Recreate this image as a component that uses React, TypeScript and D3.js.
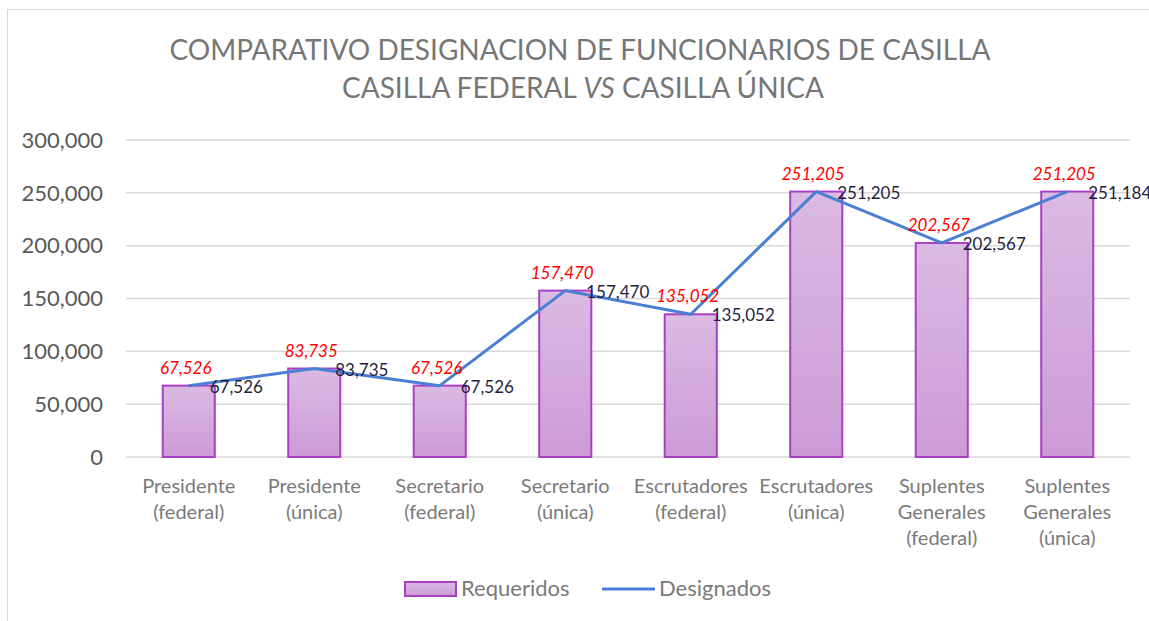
import React from "react";
import * as d3 from "d3";

const categories: string[][] = [
  ["Presidente", "(federal)"],
  ["Presidente", "(única)"],
  ["Secretario", "(federal)"],
  ["Secretario", "(única)"],
  ["Escrutadores", "(federal)"],
  ["Escrutadores", "(única)"],
  ["Suplentes", "Generales", "(federal)"],
  ["Suplentes", "Generales", "(única)"],
];
const requeridos = [67526, 83735, 67526, 157470, 135052, 251205, 202567, 251205];
const designados = [67526, 83735, 67526, 157470, 135052, 251205, 202567, 251184];
const yTicks = [0, 50000, 100000, 150000, 200000, 250000, 300000];

const W = 1149;
const H = 621;
const FONT = "Lato, 'Open Sans', 'Liberation Sans', sans-serif";

export default function App() {
  const x = d3
    .scaleBand<number>()
    .domain(d3.range(categories.length))
    .range([126, 1130])
    .paddingInner(0.585)
    .paddingOuter(0.2925);
  const y = d3.scaleLinear().domain([0, 300000]).range([457, 140]);
  const fmt = d3.format(",");
  const cx = (i: number) => (x(i) as number) + x.bandwidth() / 2;
  const line = d3
    .line<number>()
    .x((_, i) => cx(i))
    .y((d) => y(d));

  return (
    <svg
      width={W}
      height={H}
      style={{ position: "absolute", left: 0, top: 0, background: "#fff" }}
      fontFamily={FONT}
    >
      <defs>
        <linearGradient id="barGrad" x1="0" y1="0" x2="0" y2="1">
          <stop offset="0" stopColor="#dbbae3" />
          <stop offset="1" stopColor="#cc9bd6" />
        </linearGradient>
      </defs>
      <rect x={7.5} y={9.5} width={1160} height={630} fill="#fff" stroke="#d9d9d9" strokeWidth={1} />
      <text x={580} y={60} textAnchor="middle" fontSize={28} fill="#767676">
        COMPARATIVO DESIGNACION DE FUNCIONARIOS DE CASILLA
      </text>
      <text x={583} y={98} textAnchor="middle" fontSize={28} fill="#767676">
        CASILLA FEDERAL <tspan fontStyle="italic">VS</tspan> CASILLA ÚNICA
      </text>
      {yTicks.map((t) => (
        <g key={t}>
          <line x1={126} x2={1130} y1={y(t)} y2={y(t)} stroke="#d9d9d9" strokeWidth={1.5} />
          <text x={103} y={y(t)} dy="0.35em" textAnchor="end" fontSize={22} fill="#595959">
            {fmt(t)}
          </text>
        </g>
      ))}
      {requeridos.map((v, i) => (
        <rect
          key={i}
          x={x(i)}
          y={y(v)}
          width={x.bandwidth()}
          height={y(0) - y(v)}
          fill="url(#barGrad)"
          stroke="#a940c4"
          strokeWidth={2}
        />
      ))}
      <path d={line(designados) || ""} fill="none" stroke="#4a7fd4" strokeWidth={3} strokeLinejoin="round" />
      {requeridos.map((v, i) => (
        <text key={i} x={cx(i) - 3} y={y(v) - 12} textAnchor="middle" fontSize={17} fontStyle="italic" fill="#ff0000">
          {fmt(v)}
        </text>
      ))}
      {designados.map((v, i) => (
        <text key={i} x={cx(i) + 21} y={y(v) + 7} fontSize={17} fill="#1f1f3d">
          {fmt(v)}
        </text>
      ))}
      {categories.map((lines, i) => (
        <text key={i} textAnchor="middle" fontSize={20} fill="#7a7a7a">
          {lines.map((l, j) => (
            <tspan key={j} x={cx(i)} y={493 + j * 26}>
              {l}
            </tspan>
          ))}
        </text>
      ))}
      <rect x={405} y={582} width={51} height={14} fill="url(#barGrad)" stroke="#a940c4" strokeWidth={2} />
      <text x={461} y={596} fontSize={22} fill="#7a7a7a">
        Requeridos
      </text>
      <line x1={602} x2={655} y1={589} y2={589} stroke="#4a7fd4" strokeWidth={3} />
      <text x={659} y={596} fontSize={22} fill="#7a7a7a">
        Designados
      </text>
    </svg>
  );
}
